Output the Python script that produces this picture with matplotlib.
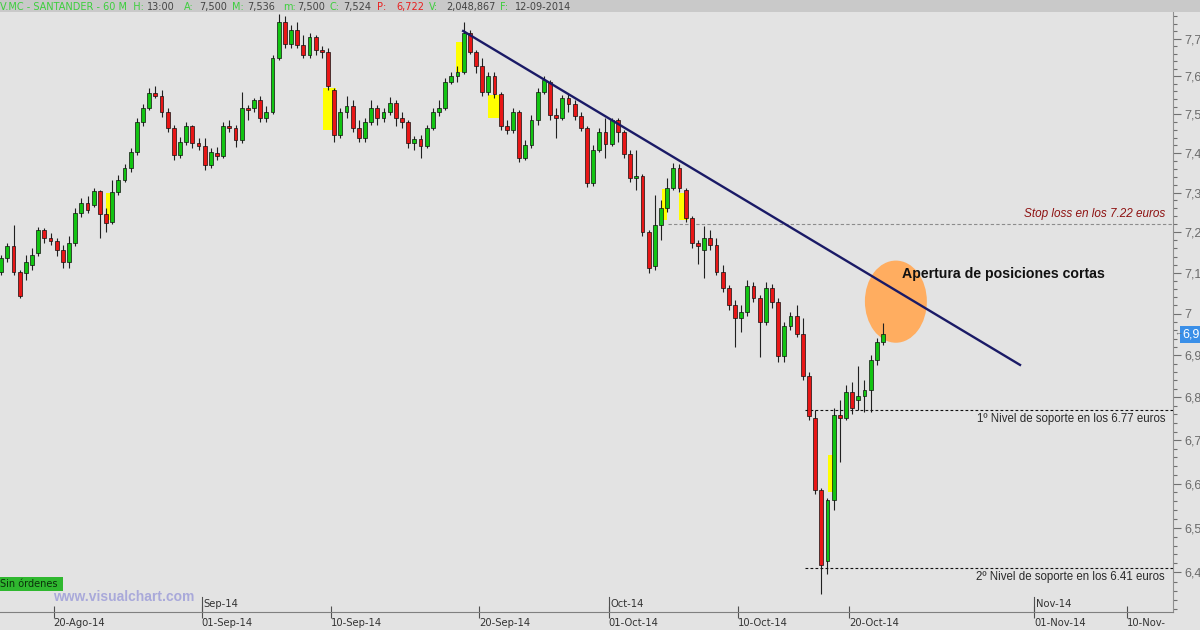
import numpy as np
import matplotlib
matplotlib.use('Agg')
import matplotlib.pyplot as plt
from matplotlib.patches import Ellipse, Rectangle
from matplotlib.ticker import FixedLocator, NullFormatter

plt.rcParams['font.family'] = ['Liberation Sans', 'DejaVu Sans']

# SAN (V.MC) candles, 3 per session, first one on 15-Ago-14, last on 21-Oct-14
opens = [7.102, 7.136, 7.166, 7.102, 7.100, 7.119, 7.149, 7.206, 7.186, 7.179,
         7.156, 7.126, 7.174, 7.248, 7.273, 7.268, 7.304, 7.246, 7.226, 7.301,
         7.332, 7.362, 7.403, 7.480, 7.516, 7.555, 7.547, 7.506, 7.464, 7.395,
         7.428, 7.469, 7.426, 7.418, 7.369, 7.400, 7.392, 7.469, 7.464, 7.434,
         7.516, 7.516, 7.537, 7.490, 7.506, 7.647, 7.743, 7.685, 7.722, 7.682,
         7.655, 7.703, 7.669, 7.663, 7.563, 7.446, 7.506, 7.521, 7.464, 7.439,
         7.480, 7.516, 7.490, 7.506, 7.529, 7.490, 7.480, 7.426, 7.436, 7.418,
         7.464, 7.506, 7.516, 7.584, 7.600, 7.611, 7.716, 7.663, 7.626, 7.558,
         7.600, 7.553, 7.469, 7.459, 7.506, 7.387, 7.421, 7.485, 7.558, 7.584,
         7.498, 7.490, 7.542, 7.527, 7.495, 7.464, 7.324, 7.408, 7.454, 7.423,
         7.485, 7.454, 7.398, 7.337, 7.342, 7.201, 7.117, 7.218, 7.261, 7.311,
         7.362, 7.306, 7.236, 7.174, 7.156, 7.186, 7.169, 7.102, 7.063, 7.021,
         6.990, 7.004, 7.068, 7.038, 6.980, 7.063, 7.028, 6.899, 6.971, 6.995,
         6.951, 6.851, 6.752, 6.586, 6.425, 6.563, 6.759, 6.752, 6.813, 6.794,
         6.804, 6.818, 6.889, 6.932]
highs = [7.144, 7.174, 7.218, 7.107, 7.144, 7.161, 7.213, 7.211, 7.198, 7.186,
         7.169, 7.191, 7.261, 7.286, 7.291, 7.311, 7.306, 7.261, 7.332, 7.345,
         7.372, 7.413, 7.490, 7.527, 7.568, 7.574, 7.563, 7.516, 7.472, 7.441,
         7.480, 7.474, 7.439, 7.439, 7.413, 7.416, 7.480, 7.485, 7.472, 7.558,
         7.524, 7.542, 7.547, 7.521, 7.655, 7.765, 7.760, 7.735, 7.743, 7.709,
         7.714, 7.709, 7.679, 7.674, 7.568, 7.516, 7.547, 7.537, 7.485, 7.490,
         7.537, 7.524, 7.516, 7.545, 7.537, 7.506, 7.485, 7.444, 7.446, 7.474,
         7.516, 7.537, 7.595, 7.611, 7.626, 7.743, 7.722, 7.669, 7.647, 7.611,
         7.611, 7.558, 7.485, 7.516, 7.511, 7.434, 7.498, 7.568, 7.600, 7.590,
         7.516, 7.550, 7.553, 7.537, 7.506, 7.469, 7.421, 7.464, 7.490, 7.490,
         7.490, 7.459, 7.408, 7.408, 7.347, 7.206, 7.294, 7.281, 7.337, 7.375,
         7.372, 7.311, 7.241, 7.181, 7.216, 7.206, 7.186, 7.119, 7.070, 7.033,
         7.021, 7.082, 7.077, 7.045, 7.077, 7.072, 7.038, 6.980, 7.004, 7.021,
         6.990, 6.860, 6.771, 6.591, 6.568, 6.775, 6.794, 6.829, 6.837, 6.875,
         6.841, 6.901, 6.942, 6.978]
lows = [7.095, 7.126, 7.095, 7.038, 7.082, 7.107, 7.141, 7.174, 7.169, 7.141,
        7.112, 7.112, 7.166, 7.238, 7.248, 7.263, 7.186, 7.201, 7.221, 7.294,
        7.327, 7.352, 7.395, 7.469, 7.511, 7.542, 7.493, 7.454, 7.382, 7.387,
        7.421, 7.413, 7.408, 7.357, 7.362, 7.382, 7.387, 7.454, 7.416, 7.426,
        7.485, 7.506, 7.480, 7.480, 7.501, 7.642, 7.674, 7.674, 7.674, 7.647,
        7.647, 7.655, 7.647, 7.563, 7.428, 7.439, 7.490, 7.454, 7.428, 7.428,
        7.474, 7.474, 7.480, 7.498, 7.469, 7.464, 7.413, 7.408, 7.387, 7.413,
        7.459, 7.495, 7.511, 7.579, 7.584, 7.605, 7.658, 7.608, 7.547, 7.550,
        7.542, 7.459, 7.449, 7.451, 7.377, 7.382, 7.413, 7.474, 7.553, 7.485,
        7.439, 7.485, 7.506, 7.485, 7.456, 7.314, 7.317, 7.403, 7.387, 7.418,
        7.428, 7.387, 7.327, 7.306, 7.191, 7.100, 7.107, 7.181, 7.251, 7.306,
        7.301, 7.226, 7.161, 7.122, 7.087, 7.156, 7.095, 7.053, 7.009, 6.920,
        6.956, 6.995, 7.028, 6.896, 6.973, 7.014, 6.884, 6.884, 6.961, 6.944,
        6.841, 6.747, 6.577, 6.352, 6.396, 6.541, 6.650, 6.747, 6.761, 6.771,
        6.766, 6.766, 6.877, 6.925]
closes = [7.136, 7.166, 7.102, 7.043, 7.126, 7.144, 7.206, 7.186, 7.179, 7.156,
          7.126, 7.174, 7.248, 7.273, 7.256, 7.304, 7.246, 7.223, 7.301, 7.332,
          7.362, 7.403, 7.480, 7.516, 7.555, 7.547, 7.506, 7.464, 7.395, 7.428,
          7.469, 7.426, 7.418, 7.369, 7.403, 7.392, 7.469, 7.464, 7.434, 7.516,
          7.511, 7.537, 7.490, 7.506, 7.647, 7.743, 7.685, 7.722, 7.682, 7.655,
          7.703, 7.669, 7.663, 7.574, 7.446, 7.506, 7.521, 7.464, 7.439, 7.480,
          7.516, 7.490, 7.506, 7.529, 7.490, 7.480, 7.426, 7.436, 7.418, 7.464,
          7.506, 7.516, 7.584, 7.600, 7.611, 7.716, 7.663, 7.626, 7.558, 7.600,
          7.553, 7.469, 7.459, 7.506, 7.387, 7.421, 7.485, 7.558, 7.590, 7.498,
          7.490, 7.542, 7.527, 7.495, 7.464, 7.324, 7.408, 7.454, 7.423, 7.485,
          7.454, 7.398, 7.337, 7.342, 7.201, 7.112, 7.218, 7.261, 7.311, 7.362,
          7.311, 7.236, 7.174, 7.166, 7.186, 7.169, 7.102, 7.063, 7.021, 6.990,
          7.004, 7.068, 7.038, 6.980, 7.063, 7.028, 6.899, 6.971, 6.995, 6.951,
          6.851, 6.756, 6.586, 6.416, 6.563, 6.759, 6.752, 6.813, 6.775, 6.804,
          6.818, 6.889, 6.932, 6.951]

bars_per_day = 3
first_day = -3     # sessions before 20-Ago-14

# x axis in trading sessions counted from 20-Ago-14
date_labels = ['20-Ago-14', '01-Sep-14', '10-Sep-14', '20-Sep-14', '01-Oct-14',
               '10-Oct-14', '20-Oct-14', '01-Nov-14', '10-Nov-']
date_days = [0, 8, 15, 23, 30, 37, 43, 53, 58]
month_labels = ['Sep-14', 'Oct-14', 'Nov-14']
month_days = [8, 30, 53]

price_ticks = [7.7, 7.6, 7.5, 7.4, 7.3, 7.2, 7.1, 7.0, 6.9, 6.8, 6.7, 6.6, 6.5, 6.4]
price_labels = ['7,7', '7,6', '7,5', '7,4', '7,3', '7,2', '7,1', '7',
                '6,9', '6,8', '6,7', '6,6', '6,5', '6,4']

stop_loss = 7.22
support1 = 6.77
support2 = 6.41

trend_days = [22.14, 52.24]
trend_prices = [7.72, 6.877]

# yellow marked zones
hl_start = [2.83, 14.56, 21.75, 23.48, 32.88, 33.80, 41.86]
hl_end = [3.26, 15.26, 22.18, 24.18, 33.15, 34.29, 42.24]
hl_low = [7.23, 7.46, 7.61, 7.49, 7.23, 7.23, 6.58]
hl_high = [7.30, 7.57, 7.69, 7.55, 7.31, 7.30, 6.666]

bg = '#e3e3e3'
up_col = '#12c412'
down_col = '#e81616'

fig = plt.figure(figsize=(12, 6.3), dpi=100, facecolor=bg)
ax = fig.add_axes([0, 18/630, 1173/1200, 600/630])
ax.set_facecolor(bg)
ax.set_yscale('log')

o = np.array(opens)
h = np.array(highs)
l = np.array(lows)
c = np.array(closes)
x = first_day + (np.arange(len(c)) + 0.5) / bars_per_day
up = c >= o

# marked zones
hs = np.array(hl_start)
he = np.array(hl_end)
ax.bar((hs + he) / 2, np.array(hl_high) - np.array(hl_low), bottom=hl_low,
       width=he - hs, color='#ffff00', zorder=1)

# orange circle
ax.add_patch(Ellipse((45.53, 7.03), 3.35, 0.2, facecolor='#ffad60',
                     edgecolor='none', zorder=1.5))

# candles
ax.vlines(x, l, h, color='#202020', lw=0.8, zorder=2)
body_lo = np.minimum(o, c)
body_h = np.maximum(np.abs(c - o), 0.002)
ax.bar(x, body_h, bottom=body_lo, width=0.2,
       color=np.where(up, up_col, down_col), edgecolor='#101010', lw=0.5, zorder=3)

# levels
right_day = 60.08
ax.hlines(stop_loss, 33.2, 60.5, color='#8c8c8c', lw=0.8, linestyles=(0, (3, 2)), zorder=2)
ax.hlines([support1, support2], 40.6, 60.5, color='#111111', lw=0.8,
          linestyles=(0, (2.5, 2)), zorder=2)
ax.annotate('Stop loss en los 7.22 euros', (right_day, stop_loss), xytext=(0, 3),
            textcoords='offset points', ha='right', va='bottom', style='italic',
            color='#8e1212', fontsize=8.5)
ax.annotate('1º Nivel de soporte en los 6.77 euros', (right_day, support1), xytext=(0, -2),
            textcoords='offset points', ha='right', va='top', color='#2a2a2a', fontsize=8.3)
ax.annotate('2º Nivel de soporte en los 6.41 euros', (right_day, support2), xytext=(0, -2),
            textcoords='offset points', ha='right', va='top', color='#2a2a2a', fontsize=8.3)

# trend line
ax.plot(trend_days, trend_prices, color='#1a1a66', lw=1.7, zorder=4)
ax.text(45.86, 7.098, 'Apertura de posiciones cortas', fontsize=10.2, fontweight='bold',
        color='#111111', va='center', ha='left', zorder=5)

ax.set_xlim(-2.897, 60.51)
ax.set_ylim(6.313, 7.771)

# price axis
ax.yaxis.tick_right()
ax.yaxis.set_major_locator(FixedLocator(price_ticks))
ax.yaxis.set_minor_locator(FixedLocator(np.arange(6.32, 7.77, 0.02)))
ax.set_yticklabels(price_labels)
ax.yaxis.set_minor_formatter(NullFormatter())
ax.tick_params(axis='y', which='major', length=6, width=0.8, color='#707070',
               labelsize=9, labelcolor='#6a6a6a', pad=2, direction='out')
ax.tick_params(axis='y', which='minor', length=3, width=0.8, color='#707070', direction='out')

# date axis
ax.set_xticks(date_days)
ax.set_xticklabels(date_labels, ha='left', fontsize=7.2, color='#333333',
                   family='DejaVu Sans')
ax.tick_params(axis='x', length=8, width=0.8, color='#505050', direction='inout', pad=0)
for d, m in zip(month_days, month_labels):
    ax.axvline(d, ymin=0, ymax=0.025, color='#505050', lw=0.8)
    ax.text(d + 0.08, 0.013, m, transform=ax.get_xaxis_transform(), fontsize=7.2,
            color='#333333', va='center', ha='left', family='DejaVu Sans')

for s in ['left', 'top']:
    ax.spines[s].set_visible(False)
ax.spines['bottom'].set_color('#808080')
ax.spines['right'].set_color('#909090')

# last price marker
ax.annotate('6,9', (1, c[-1]), xycoords=('axes fraction', 'data'), xytext=(7, 0),
            textcoords='offset points', ha='left', va='center', color='white',
            fontsize=9, bbox=dict(boxstyle='square,pad=0.2', fc='#3a8fe8', ec='none'))
ax.annotate('←', (1, c[-1]), xycoords=('axes fraction', 'data'), xytext=(1, 0),
            textcoords='offset points', ha='left', va='center', color='#707070', fontsize=6)

# header bar
fig.patches.append(Rectangle((0, 1 - 12/630), 1, 12/630, transform=fig.transFigure,
                             facecolor='#c9c9c9', edgecolor='none', zorder=0))
header = [('V.MC - SANTANDER - 60 M  H:', '#3ccf3c', 0), ('13:00', '#444444', 147),
          ('A:', '#3ccf3c', 184), ('7,500', '#444444', 199), ('M:', '#3ccf3c', 232),
          ('7,536', '#444444', 247), ('m:', '#3ccf3c', 283), ('7,500', '#444444', 297),
          ('C:', '#3ccf3c', 330), ('7,524', '#444444', 343), ('P:', '#e82020', 377),
          ('6,722', '#e82020', 396), ('V:', '#3ccf3c', 429), ('2,048,867', '#444444', 446),
          ('F:', '#3ccf3c', 500), ('12-09-2014', '#444444', 515)]
for txt, col, px in header:
    fig.text(px / 1200, 1 - 10/630, txt, color=col, fontsize=7, va='baseline',
             family='DejaVu Sans')

fig.text(0.0, 1 - 584/630, 'Sin órdenes ', fontsize=7, color='#0b300b', va='center',
         family='DejaVu Sans', bbox=dict(boxstyle='square,pad=0.2', fc='#2fb82f', ec='none'))
fig.text(53/1200, 1 - 597/630, 'www.visualchart.com', fontsize=10, fontweight='bold',
         color='#a9a9da', va='center')

fig.savefig('out.png', dpi=100, facecolor=bg)
